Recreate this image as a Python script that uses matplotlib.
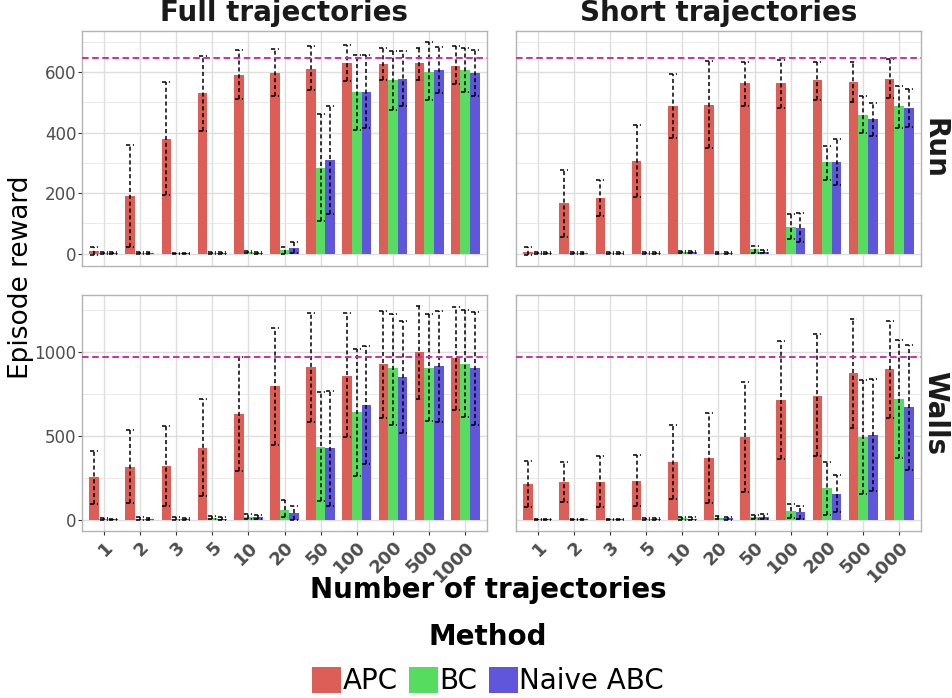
import matplotlib
matplotlib.use("Agg")
import matplotlib.pyplot as plt
from matplotlib.patches import Patch
import numpy as np

n_traj = ["1", "2", "3", "5", "10", "20", "50", "100", "200", "500", "1000"]
methods = ["APC", "BC", "Naive ABC"]
colors = ["#DC5E56", "#56DC5F", "#5F56DC"]
col_names = ["Full trajectories", "Short trajectories"]
row_names = ["Run", "Walls"]
expert = [646, 970]

# Run, full trajectories
full_run_apc = [8, 189, 378, 530, 592, 599, 612, 629, 626, 629, 622]
full_run_apc_lo = [-6, 22, 193, 407, 510, 521, 540, 570, 573, 573, 562]
full_run_apc_hi = [22, 360, 567, 653, 673, 676, 687, 690, 680, 680, 686]
full_run_bc = [2, 2, 2, 2, 5, 11, 282, 534, 573, 601, 606]
full_run_bc_lo = [0, 0, 0, 0, 1, 0, 106, 410, 476, 507, 534]
full_run_bc_hi = [4, 4, 3, 4, 9, 22, 461, 657, 670, 701, 680]
full_run_abc = [2, 2, 2, 2, 3, 18, 308, 536, 579, 606, 599]
full_run_abc_lo = [0, 0, 0, 0, 0, 2, 132, 416, 488, 532, 522]
full_run_abc_hi = [4, 4, 3, 4, 6, 38, 487, 657, 670, 683, 675]

# Run, short trajectories
short_run_apc = [5, 166, 183, 305, 487, 493, 563, 563, 573, 569, 579]
short_run_apc_lo = [-5, 55, 124, 186, 383, 350, 489, 482, 509, 503, 513]
short_run_apc_hi = [20, 277, 243, 426, 595, 637, 635, 640, 635, 635, 643]
short_run_bc = [2, 2, 2, 2, 4, 2, 15, 87, 302, 460, 487]
short_run_bc_lo = [0, 0, 0, 0, 1, 0, 3, 47, 243, 399, 415]
short_run_bc_hi = [4, 4, 4, 4, 8, 4, 25, 130, 356, 521, 554]
short_run_abc = [2, 2, 2, 2, 4, 2, 6, 84, 302, 444, 480]
short_run_abc_lo = [0, 0, 0, 0, 1, 0, 1, 37, 228, 388, 420]
short_run_abc_hi = [4, 4, 4, 4, 8, 4, 12, 134, 379, 498, 543]

# Walls, full trajectories
full_walls_apc = [260, 319, 325, 432, 635, 796, 909, 861, 927, 998, 964]
full_walls_apc_lo = [97, 101, 87, 143, 292, 446, 585, 494, 611, 722, 653]
full_walls_apc_hi = [413, 534, 561, 722, 970, 1141, 1232, 1232, 1244, 1276, 1268]
full_walls_bc = [8, 10, 10, 15, 22, 63, 438, 641, 903, 907, 932]
full_walls_bc_lo = [3, 3, 3, 5, 8, 18, 117, 264, 567, 591, 613]
full_walls_bc_hi = [13, 17, 17, 25, 36, 119, 760, 1020, 1228, 1224, 1248]
full_walls_abc = [6, 9, 9, 10, 18, 46, 427, 688, 855, 915, 903]
full_walls_abc_lo = [2, 3, 3, 3, 6, 2, 85, 337, 520, 585, 569]
full_walls_abc_hi = [10, 15, 15, 18, 30, 85, 766, 1034, 1184, 1244, 1236]

# Walls, short trajectories
short_walls_apc = [218, 230, 230, 236, 349, 373, 498, 718, 742, 873, 897]
short_walls_apc_lo = [81, 111, 81, 83, 125, 101, 169, 365, 383, 548, 611]
short_walls_apc_hi = [353, 349, 383, 387, 569, 637, 821, 1067, 1107, 1196, 1184]
short_walls_bc = [6, 6, 6, 8, 12, 15, 20, 58, 194, 498, 724]
short_walls_bc_lo = [2, 2, 2, 3, 4, 5, 6, 12, 32, 159, 371]
short_walls_bc_hi = [10, 10, 10, 13, 20, 25, 34, 97, 349, 837, 1075]
short_walls_abc = [6, 6, 6, 8, 10, 13, 22, 52, 159, 510, 671]
short_walls_abc_lo = [2, 2, 2, 3, 3, 4, 6, 10, 50, 175, 298]
short_walls_abc_hi = [10, 10, 10, 13, 17, 22, 38, 85, 270, 839, 1044]

panels = [
    [
        [(full_run_apc, full_run_apc_lo, full_run_apc_hi),
         (full_run_bc, full_run_bc_lo, full_run_bc_hi),
         (full_run_abc, full_run_abc_lo, full_run_abc_hi)],
        [(short_run_apc, short_run_apc_lo, short_run_apc_hi),
         (short_run_bc, short_run_bc_lo, short_run_bc_hi),
         (short_run_abc, short_run_abc_lo, short_run_abc_hi)],
    ],
    [
        [(full_walls_apc, full_walls_apc_lo, full_walls_apc_hi),
         (full_walls_bc, full_walls_bc_lo, full_walls_bc_hi),
         (full_walls_abc, full_walls_abc_lo, full_walls_abc_hi)],
        [(short_walls_apc, short_walls_apc_lo, short_walls_apc_hi),
         (short_walls_bc, short_walls_bc_lo, short_walls_bc_hi),
         (short_walls_abc, short_walls_abc_lo, short_walls_abc_hi)],
    ],
]
row_ticks = [[0, 200, 400, 600], [0, 500, 1000]]
row_minor = [[100, 300, 500, 700], [250, 750, 1250]]

W, H = 953, 698
fig = plt.figure(figsize=(W / 100, H / 100), dpi=100)

col_x = [(82, 487), (516, 921)]
row_y = [(31, 266), (295, 531)]

grey_txt = "#4D4D4D"
border = "#B3B3B3"
dash_err = (0, (2.7, 1.8))
x = np.arange(len(n_traj))
bw = 0.8 / 3
capw = 0.22

for r in range(2):
    # shared y range per row, ggplot-style 5% expansion
    vals = [0]
    for c in range(2):
        for m, lo, hi in panels[r][c]:
            vals += list(m) + list(lo) + list(hi)
    ymin, ymax = min(vals), max(vals)
    pad = 0.05 * (ymax - ymin)
    for c in range(2):
        x0, x1 = col_x[c]
        y0, y1 = row_y[r]
        ax = fig.add_axes([x0 / W, 1 - y1 / H, (x1 - x0) / W, (y1 - y0) / H])
        ax.set_axisbelow(True)
        for k, (m, lo, hi) in enumerate(panels[r][c]):
            xs = x + (k - 1) * bw
            ax.bar(xs, m, bw, color=colors[k], linewidth=0, zorder=2)
            ax.vlines(xs, lo, hi, colors="black", linestyles=dash_err, lw=1.1, zorder=3)
            ax.hlines(lo, xs - capw / 2, xs + capw / 2, colors="black", linestyles=dash_err, lw=1.1, zorder=3)
            ax.hlines(hi, xs - capw / 2, xs + capw / 2, colors="black", linestyles=dash_err, lw=1.1, zorder=3)
        ax.axhline(expert[r], color="#CD3199", lw=1.4, ls=(0, (3.4, 1.8)), zorder=4)

        ax.set_xlim(-0.6, len(n_traj) - 0.4)
        ax.set_ylim(ymin - pad, ymax + pad)
        ax.set_xticks(x)
        ax.set_yticks(row_ticks[r])
        ax.set_yticks(row_minor[r], minor=True)
        ax.grid(True, which="major", color="#DEDEDE", lw=1.0)
        ax.grid(True, which="minor", axis="y", color="#E6E6E6", lw=0.6)
        ax.tick_params(which="minor", length=0)
        for s in ax.spines.values():
            s.set_color(border)
            s.set_linewidth(1.0)
        ax.tick_params(axis="both", color="#333333", length=3, width=0.8)

        if r == 1:
            ax.set_xticklabels(n_traj, rotation=45, ha="right", va="top",
                               rotation_mode="anchor", fontsize=13,
                               fontweight="bold", color=grey_txt)
            ax.tick_params(axis="x", pad=2)
        else:
            ax.tick_params(axis="x", bottom=False, labelbottom=False)
        if c == 0:
            ax.set_yticklabels([str(t) for t in row_ticks[r]], fontsize=12, color=grey_txt)
            ax.tick_params(axis="y", pad=1)
        else:
            ax.tick_params(axis="y", left=False, labelleft=False)

        if r == 0:
            fig.text((x0 + x1) / 2 / W, 1 - 13 / H, col_names[c], ha="center", va="center",
                     fontsize=20, fontweight="bold", color="#1A1A1A")
    fig.text(935 / W, 1 - (row_y[r][0] + row_y[r][1]) / 2 / H, row_names[r], ha="center",
             va="center", rotation=-90, fontsize=20, fontweight="bold", color="#1A1A1A")

fig.text(21 / W, 1 - 277 / H, "Episode reward", rotation=90, ha="center", va="center", fontsize=19)
fig.text(488 / W, 1 - 590 / H, "Number of trajectories", ha="center", va="center",
         fontsize=20, fontweight="bold")
fig.text(488 / W, 1 - 637 / H, "Method", ha="center", va="center", fontsize=20, fontweight="bold")

handles = [Patch(facecolor=c, edgecolor="none") for c in colors]
fig.legend(handles, methods, loc="center", bbox_to_anchor=(488 / W, 1 - 681 / H), ncol=3,
           frameon=False, fontsize=20, handlelength=1.05, handleheight=1.05,
           handletextpad=0.05, columnspacing=0.4, borderpad=0, borderaxespad=0)

fig.savefig("out.png", dpi=100)
